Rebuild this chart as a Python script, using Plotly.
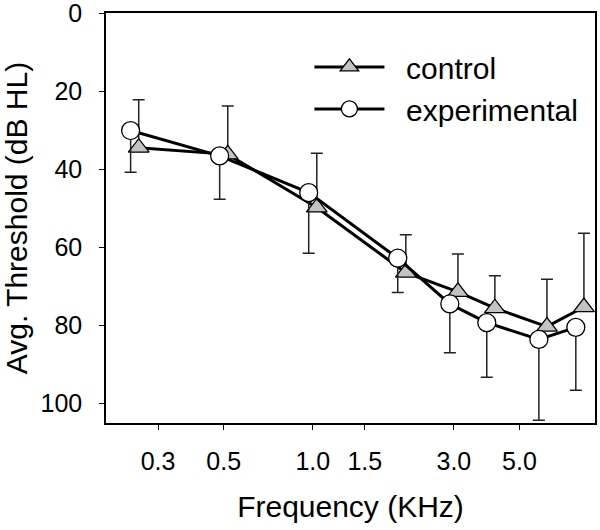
import plotly.graph_objects as go

# Data
freq_khz = [0.25, 0.5, 1.0, 2.0, 3.0, 4.0, 6.0, 8.0]
control = [34.5, 36.2, 49.8, 66.5, 71.4, 75.6, 80.3, 75.3]
control_err = [12.3, 12.4, 13.9, 9.7, 9.7, 8.3, 12.1, 18.9]
experimental = [30.1, 36.6, 46.0, 62.8, 74.5, 79.3, 83.6, 80.5]
experimental_err = [10.7, 11.1, 15.5, 8.8, 12.5, 14.0, 20.7, 16.1]

x_tickvals = [0.3, 0.5, 1.0, 1.5, 3.0, 5.0]
x_ticktext = ["0.3", "0.5", "1.0", "1.5", "3.0", "5.0"]
y_tickvals = [0, 20, 40, 60, 80, 100]

dodge = 1.032  # small horizontal offset so the two series do not overlap

TICK_FONT = dict(family="Liberation Sans, Arial, sans-serif", size=25, color="black")
TITLE_FONT = dict(family="Liberation Sans, Arial, sans-serif", size=30, color="black")
NB = "\u00a0\u00a0"

fig = go.Figure()

fig.add_trace(go.Scatter(
    x=[f * dodge for f in freq_khz], y=control, name=NB + "control",
    mode="lines+markers", cliponaxis=False,
    line=dict(color="black", width=3),
    marker=dict(symbol="triangle-up", size=18, color="#c3c3c3",
                line=dict(color="black", width=1.3)),
    error_y=dict(type="data", symmetric=False, array=[0] * len(control),
                 arrayminus=control_err, color="#222222", thickness=1.5, width=6),
))

fig.add_trace(go.Scatter(
    x=[f / dodge for f in freq_khz], y=experimental, name=NB + "experimental",
    mode="lines+markers", cliponaxis=False,
    line=dict(color="black", width=3),
    marker=dict(symbol="circle", size=18, color="white",
                line=dict(color="black", width=1.3)),
    error_y=dict(type="data", symmetric=False, array=experimental_err,
                 arrayminus=[0] * len(experimental), color="#222222", thickness=1.5, width=6),
))

fig.update_layout(
    width=600, height=530,
    margin=dict(l=106, r=5, t=13, b=107),
    paper_bgcolor="white", plot_bgcolor="white",
    showlegend=True,
    legend=dict(x=0.416, y=0.932, xanchor="left", yanchor="top",
                font=TITLE_FONT, itemwidth=70, bgcolor="rgba(0,0,0,0)",
                tracegroupgap=0),
    xaxis=dict(
        type="log", range=[0.30103 - 1, 0.95424],
        tickvals=x_tickvals, ticktext=x_ticktext,
        ticks="outside", ticklen=5, tickwidth=1.3, tickcolor="black",
        tickfont=TICK_FONT, ticklabelstandoff=10,
        showline=True, linecolor="black", linewidth=1.5, mirror=True,
        showgrid=False, zeroline=False, automargin=False,
        title=dict(text="Frequency (KHz)", font=TITLE_FONT, standoff=22),
    ),
    yaxis=dict(
        range=[105, 0],
        tickvals=y_tickvals,
        ticks="outside", ticklen=5, tickwidth=1.3, tickcolor="black",
        tickfont=TICK_FONT, ticklabelstandoff=12, ticklabeloverflow="allow",
        showline=True, linecolor="black", linewidth=1.5, mirror=True,
        showgrid=False, zeroline=False, automargin=False,
        title=dict(text="Avg. Threshold (dB HL)", font=TITLE_FONT, standoff=8),
    ),
)

fig.write_html("out.html", config={"displayModeBar": False},
               post_script="document.body.style.margin='0';")
